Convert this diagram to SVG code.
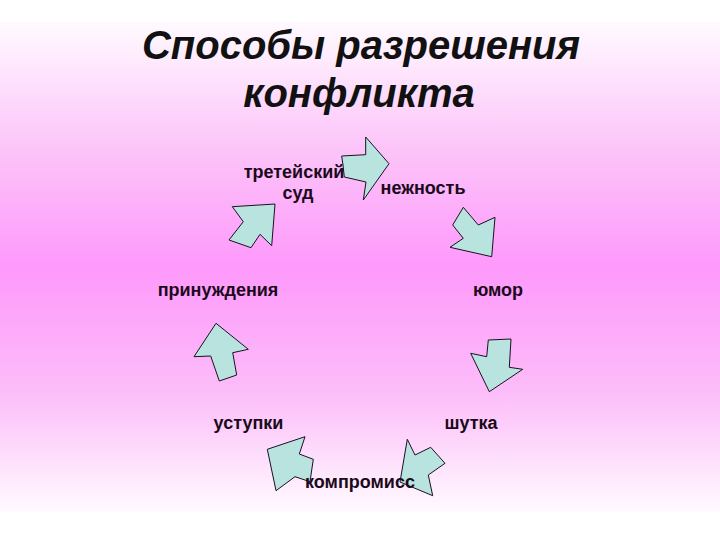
<svg xmlns="http://www.w3.org/2000/svg" width="720" height="540" viewBox="0 0 720 540">
<defs>
<linearGradient id="bg" x1="0" y1="0" x2="0" y2="1">
<stop offset="0" stop-color="#fffaff"/>
<stop offset="0.25" stop-color="#fcc6f9"/>
<stop offset="0.5" stop-color="#fe99fb"/>
<stop offset="0.75" stop-color="#fcbcf9"/>
<stop offset="1" stop-color="#fffaff"/>
</linearGradient>
<style>
.arr{fill:#b9e3df;stroke:#1a1020;stroke-width:1;stroke-linejoin:miter}
.lbl{font-family:"Liberation Sans",Arial,sans-serif;font-weight:bold;font-size:18px;fill:#1a0a1a;text-anchor:middle}
.ttl{font-family:"Liberation Sans",Arial,sans-serif;font-weight:bold;font-style:italic;font-size:40px;fill:#111;text-anchor:middle}
</style>
</defs>
<rect width="720" height="540" fill="#ffffff"/>
<rect x="0" y="22" width="720" height="490" fill="url(#bg)"/>
<g id="title">
<text class="ttl" x="361" y="59">Способы разрешения</text>
<text class="ttl" x="359" y="107">конфликта</text>
</g>
<g id="connectors">
<polygon class="arr" points="341.7,156 365.7,154.7 365.7,137 389,163.7 363.3,200 366,182 344.3,177 343,165"/>
<polygon class="arr" points="463.3,207.3 478.3,225 495,217.3 491.7,256.7 450,247.3 463.3,238.3 452.7,225"/>
<polygon class="arr" points="488.3,340 511,339 509.3,367.3 522.7,369.3 489.3,391.7 470.7,353.3 486.7,356.7"/>
<polygon class="arr" points="407.3,439.3 415,455 430.7,447.3 445,463.3 428.3,475 432.7,495.7 400,482"/>
<polygon class="arr" points="267.3,449.3 305,436.7 299.3,454 313.3,459.3 310,481.7 295,476.7 276,490.7"/>
<polygon class="arr" points="216,323.3 248.3,349.3 232.7,352.7 236.7,375 219.3,381 210.7,356 194,356.7"/>
<polygon class="arr" points="232.3,206.7 275,204 271.7,245.7 260,234.3 251,247.7 229,240 243.3,221.7"/>
</g>
<g id="node-sud"><text class="lbl" x="294" y="178">третейский</text><text class="lbl" x="298" y="199">суд</text></g>
<g id="node-nezhnost"><text class="lbl" x="423" y="194">нежность</text></g>
<g id="node-yumor"><text class="lbl" x="498" y="296">юмор</text></g>
<g id="node-shutka"><text class="lbl" x="471" y="429">шутка</text></g>
<g id="node-kompromiss"><text class="lbl" x="360" y="488">компромисс</text></g>
<g id="node-ustupki"><text class="lbl" x="248.5" y="429">уступки</text></g>
<g id="node-prinuzhdenia"><text class="lbl" x="218" y="296">принуждения</text></g>
</svg>
